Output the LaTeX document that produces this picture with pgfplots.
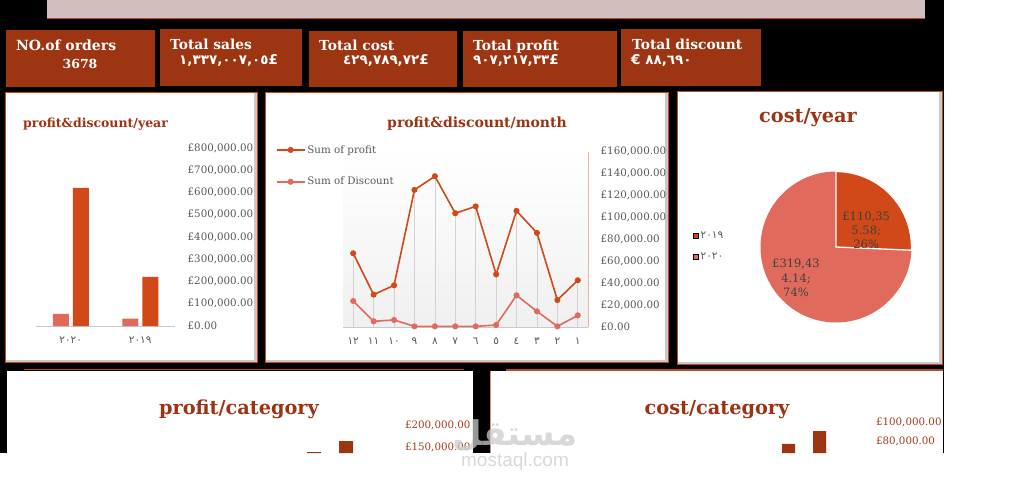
\documentclass[border=0pt]{standalone}
\usepackage{fontspec}
\setmainfont{DejaVu Serif}
\newfontfamily\arab[Script=Arabic]{DejaVu Sans}
\newfontfamily\latsans{DejaVu Sans}
\newfontfamily\wmfont{Liberation Sans}
\TeXXeTstate=1
\usepackage{pgfplots}
\pgfplotsset{compat=1.18}
\definecolor{cardrust}{HTML}{9D3412}
\definecolor{titlerust}{HTML}{9C3312}
\definecolor{bandpink}{HTML}{D3BEBE}
\definecolor{framerust}{HTML}{C04A20}
\definecolor{shadowgray}{HTML}{CFC6C6}
\definecolor{profitc}{HTML}{D14919}
\definecolor{discc}{HTML}{E06B5C}
\definecolor{tickgray}{HTML}{595959}
\definecolor{axisgray}{HTML}{C8C8C8}
\definecolor{axisrust}{HTML}{EDB49E}
\definecolor{dropgray}{HTML}{D2D2D2}
\definecolor{lblgray}{HTML}{404040}
\definecolor{ticksrust}{HTML}{A63C1A}

% monthly values (left to right: months 12 ... 1)
\pgfplotstableread{
x profit discount
0  67200 23700
1  29500  5200
2  38000  6400
3 125000   600
4 137500   600
5 103700   600
6 110000   600
7  48000  1800
8 105900 28900
9  85800 14300
10 24600   600
11 42600 10600
}\monthdata

\def\costA{110355.58}% 2019
\def\costB{319434.14}% 2020
\edef\angA{\fpeval{360*\costA/(\costA+\costB)}}

\newcommand\tfont[1]{\fontsize{#1}{#1}\selectfont\bfseries}
\newcommand\vfont{\bfseries\fontsize{13.5}{13.5}\selectfont}
\newcommand\panel[4]{%
  \fill[framerust] (#1,-#2) rectangle (#3,-#4);
  \fill[shadowgray] (#1+1,-#2-1) rectangle (#3-1,-#4+1);
  \fill[white] (#1+1,-#2-1) rectangle (#3-4,-#4+3);}

\begin{document}
\begin{tikzpicture}[x=1pt,y=1pt]
\path[use as bounding box] (0,0) rectangle (1031,-479);
\fill[white] (0,0) rectangle (1031,-479);
\fill[black] (0,0) rectangle (944,-453);
% top band
\fill[bandpink] (47,0) rectangle (925,-18);
\draw[framerust, line width=1pt] (47,-18) -- (925,-18);

% KPI cards
\fill[cardrust] (6,-30) rectangle (155,-87);
\fill[cardrust] (160,-29) rectangle (302,-86);
\fill[cardrust] (309,-31) rectangle (457,-87);
\fill[cardrust] (463,-31) rectangle (617,-87);
\fill[cardrust] (621,-29) rectangle (761,-86);
\begin{scope}[every node/.style={inner sep=0pt, text=white}]
\node[anchor=base west, font=\tfont{14}] at (16,-50) {NO.of orders};
\node[anchor=base, font=\tfont{12.5}] at (80,-68) {3678};
\node[anchor=base west, font=\tfont{13.8}] at (170,-49) {Total sales};
\node[anchor=base west, font=\vfont] at (179,-64) {{\arab ١,٣٣٧,٠٠٧,٠٥}{\latsans £}};
\node[anchor=base west, font=\tfont{13.8}] at (319,-50) {Total cost};
\node[anchor=base west, font=\vfont] at (343,-64) {{\arab ٤٢٩,٧٨٩,٧٢}{\latsans £}};
\node[anchor=base west, font=\tfont{13.8}] at (473,-50) {Total profit};
\node[anchor=base west, font=\vfont] at (473,-64) {{\arab ٩٠٧,٢١٧,٣٣}{\latsans £}};
\node[anchor=base west, font=\tfont{13.8}] at (632,-49) {Total discount};
\node[anchor=base west, font=\vfont] at (631,-64) {{\latsans €} {\arab ٨٨,٦٩٠}};
\end{scope}

% panels
\panel{5}{92}{258}{363}
\panel{265}{92}{669}{363}
\panel{677}{91}{943}{365}
\fill[white] (7,-371) rectangle (473,-453);
\draw[framerust, line width=1.5pt] (24,-369.5) -- (464,-369.5);
\fill[white] (490,-371) rectangle (943,-453);
\draw[framerust, line width=1.5pt] (506,-370) -- (943,-370);
\draw[framerust!60, line width=0.6pt] (490.3,-371) -- (490.3,-453);

% titles
\node[anchor=base west, inner sep=0pt, text=titlerust, font=\tfont{12.5}] at (23,-127) {profit\&discount/year};
\node[anchor=base, inner sep=0pt, text=titlerust, font=\tfont{14}] at (477,-127) {profit\&discount/month};
\node[anchor=base, inner sep=0pt, text=titlerust, font=\tfont{19.3}] at (808,-122) {cost/year};
\node[anchor=base, inner sep=0pt, text=titlerust, font=\tfont{19.3}] at (239,-414) {profit/category};
\node[anchor=base, inner sep=0pt, text=titlerust, font=\tfont{19.3}] at (717,-414) {cost/category};

% ---------- profit & discount / year ----------
\begin{axis}[
  at={(36pt,-326pt)}, anchor=south west, scale only axis,
  width=139pt, height=178pt,
  xmin=-0.5, xmax=1.5, ymin=0, ymax=800000,
  ybar=4pt, bar width=16pt,
  axis x line=bottom, axis y line=right,
  x axis line style={-, draw=axisgray},
  y axis line style={draw=none},
  xtick={0,1}, xticklabels={{\arab ٢٠٢٠},{\arab ٢٠١٩}},
  x tick style={draw=none},
  extra x ticks={-0.5,0.5,1.5}, extra x tick labels={},
  extra x tick style={major tick length=3pt, tick align=outside, tick style={draw=axisgray}},
  xticklabel style={yshift=-5pt, font=\fontsize{10.5}{10.5}\selectfont, text=tickgray},
  ytick={0,100000,200000,300000,400000,500000,600000,700000,800000},
  yticklabels={£0.00,{£100,000.00},{£200,000.00},{£300,000.00},{£400,000.00},{£500,000.00},{£600,000.00},{£700,000.00},{£800,000.00}},
  y tick style={draw=none},
  yticklabel style={anchor=west, xshift=7pt, font=\fontsize{10.3}{10.3}\selectfont, text=tickgray},
  scaled y ticks=false,
]
\addplot[fill=discc, draw=none] coordinates {(0,55000) (1,33000)};
\addplot[fill=profitc, draw=none] coordinates {(0,621000) (1,221000)};
\end{axis}

% ---------- profit & discount / month ----------
\begin{axis}[
  at={(343pt,-327pt)}, anchor=south west, scale only axis,
  width=245pt, height=175.5pt,
  xmin=-0.5, xmax=11.5, ymin=0, ymax=160000,
  axis background/.style={top color=white, bottom color=black!6},
  axis x line=bottom, axis y line=right,
  x axis line style={-, draw=axisgray},
  y axis line style={-, draw=axisrust},
  xtick={0,...,11},
  xticklabels={{\arab ١٢},{\arab ١١},{\arab ١٠},{\arab ٩},{\arab ٨},{\arab ٧},{\arab ٦},{\arab ٥},{\arab ٤},{\arab ٣},{\arab ٢},{\arab ١}},
  x tick style={draw=none},
  extra x ticks={-0.5,0.5,1.5,2.5,3.5,4.5,5.5,6.5,7.5,8.5,9.5,10.5,11.5}, extra x tick labels={},
  extra x tick style={major tick length=3pt, tick align=outside, tick style={draw=axisgray}},
  xticklabel style={yshift=-5pt, font=\fontsize{10.5}{10.5}\selectfont, text=tickgray},
  ytick={0,20000,40000,60000,80000,100000,120000,140000,160000},
  yticklabels={£0.00,{£20,000.00},{£40,000.00},{£60,000.00},{£80,000.00},{£100,000.00},{£120,000.00},{£140,000.00},{£160,000.00}},
  y tick style={draw=none},
  yticklabel style={anchor=west, xshift=7pt, font=\fontsize{10.3}{10.3}\selectfont, text=tickgray},
  scaled y ticks=false,
  legend style={at={(axis description cs:-0.275,1.048)}, anchor=north west, draw=none, fill=none,
    font=\fontsize{10.3}{10.3}\selectfont, text=tickgray, row sep=18.5pt, inner sep=0pt,
    cells={anchor=west}},
  legend image code/.code={\draw[mark repeat=2,mark phase=2,#1] plot coordinates {(0pt,0pt) (14pt,0pt) (28pt,0pt)};},
]
\addplot[ycomb, draw=dropgray, line width=0.6pt, forget plot] table[x=x, y=profit] {\monthdata};
\addplot[profitc, line width=1.6pt, mark=*, mark size=2.2pt] table[x=x, y=profit] {\monthdata};
\addlegendentry{Sum of profit}
\addplot[discc, line width=1.6pt, mark=*, mark size=2.2pt] table[x=x, y=discount] {\monthdata};
\addlegendentry{Sum of Discount}
\end{axis}

% ---------- cost / year (pie) ----------
\begin{axis}[
  at={(760.5pt,-322.5pt)}, anchor=south west, scale only axis,
  width=151pt, height=151pt,
  xmin=-1, xmax=1, ymin=-1, ymax=1, hide axis, clip=false,
  legend style={at={(axis description cs:-0.45,0.615)}, anchor=north west, draw=none, fill=none,
    font=\fontsize{10.5}{10.5}\selectfont, text=tickgray, row sep=8.5pt, inner sep=0pt,
    cells={anchor=west}},
  legend image code/.code={\fill[#1] (0pt,-2.7pt) rectangle (5.5pt,2.7pt);},
]
\addlegendimage{fill=profitc}
\addlegendentry{\arab ٢٠١٩}
\addlegendimage{fill=discc}
\addlegendentry{\arab ٢٠٢٠}
\fill[discc] (axis cs:0,0) -- ++({90-\angA}:75.5pt) arc[start angle={90-\angA}, end angle=-270, radius=75.5pt] -- cycle;
\filldraw[fill=profitc, draw=white, line width=1.3pt] (axis cs:0,0) -- ++(90:75.5pt) arc[start angle=90, end angle={90-\angA}, radius=75.5pt] -- cycle;
\node[align=center, text=lblgray, font=\fontsize{11.5}{14.3}\selectfont, inner sep=0pt] at (axis cs:0.40,0.22) {£110,35\\5.58;\\26\%};
\node[align=center, text=lblgray, font=\fontsize{11.5}{14.3}\selectfont, inner sep=0pt] at (axis cs:-0.53,-0.41) {£319,43\\4.14;\\74\%};
\end{axis}

% ---------- profit / category ----------
\begin{axis}[
  at={(40pt,-453pt)}, anchor=south west, scale only axis,
  width=355pt, height=38pt,
  xmin=-8.5625, xmax=2.53, ymin=136364, ymax=222727,
  axis line style={draw=none}, tick style={draw=none},
  xtick=\empty, yticklabel pos=right,
  ytick={150000,200000}, yticklabels={{£150,000.00},{£200,000.00}},
  yticklabel style={anchor=west, xshift=6.5pt, font=\fontsize{10.3}{10.3}\selectfont, text=ticksrust},
  scaled y ticks=false,
]
\addplot[ybar, bar width=14pt, fill=cardrust, draw=none] coordinates {(0,138500) (1,163600)};
\end{axis}

% ---------- cost / category ----------
\begin{axis}[
  at={(500pt,-453pt)}, anchor=south west, scale only axis,
  width=366pt, height=43pt,
  xmin=-9.306, xmax=2.5, ymin=67165, ymax=113155,
  axis line style={draw=none}, tick style={draw=none},
  xtick=\empty, yticklabel pos=right,
  ytick={80000,100000}, yticklabels={{£80,000.00},{£100,000.00}},
  yticklabel style={anchor=west, xshift=6.5pt, font=\fontsize{10.3}{10.3}\selectfont, text=ticksrust},
  scaled y ticks=false,
]
\addplot[ybar, bar width=13pt, fill=cardrust, draw=none] coordinates {(0,76800) (1,90700)};
\end{axis}

% watermark
\node[anchor=base, inner sep=0pt, text=black!20, opacity=0.75, font={\arab\bfseries\fontsize{34}{34}\selectfont}] at (515,-445) {\beginR مستقل\endR};
\node[anchor=base, inner sep=0pt, text=black!20, opacity=0.75, font={\wmfont\fontsize{19}{19}\selectfont}] at (515,-466) {mostaql.com};
\end{tikzpicture}
\end{document}
